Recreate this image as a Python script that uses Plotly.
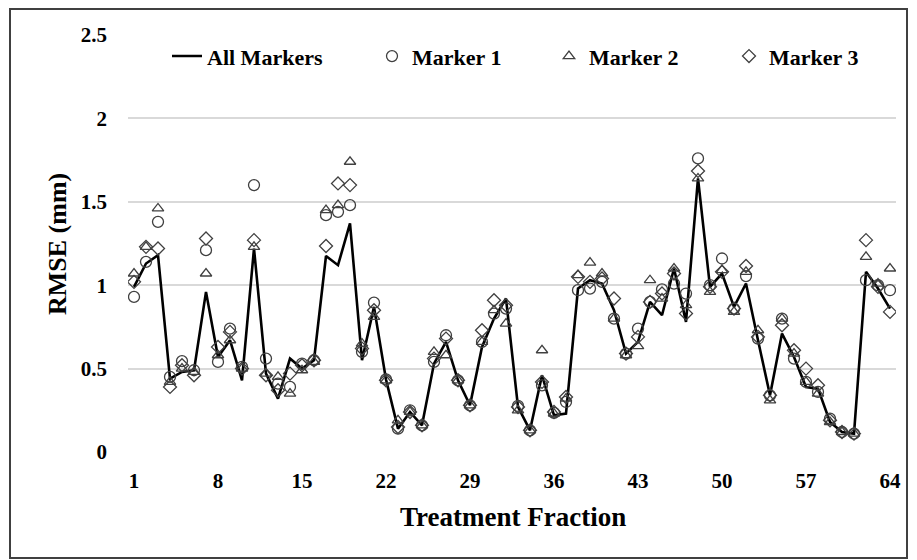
import plotly.graph_objects as go

fractions = list(range(1, 65))

all_markers = [0.99, 1.13, 1.18, 0.44, 0.48, 0.49, 0.96, 0.57, 0.67, 0.43,
               1.22, 0.47, 0.32, 0.56, 0.50, 0.55, 1.175, 1.12, 1.37, 0.55,
               0.87, 0.435, 0.14, 0.24, 0.16, 0.53, 0.66, 0.43, 0.28, 0.63,
               0.80, 0.92, 0.27, 0.13, 0.46, 0.22, 0.23, 0.98, 1.03, 1.01,
               0.85, 0.59, 0.66, 0.90, 0.82, 1.10, 0.78, 1.64, 0.99, 1.07,
               0.87, 1.01, 0.67, 0.34, 0.71, 0.57, 0.39, 0.38, 0.18, 0.12,
               0.11, 1.08, 0.98, 0.86]

marker1 = [0.93, 1.14, 1.38, 0.45, 0.545, 0.49, 1.21, 0.54, 0.74, 0.51,
           1.60, 0.56, 0.41, 0.39, 0.53, 0.55, 1.42, 1.44, 1.48, 0.60,
           0.895, 0.435, 0.14, 0.25, 0.16, 0.54, 0.70, 0.43, 0.28, 0.66,
           0.83, 0.86, 0.276, 0.13, 0.40, 0.235, 0.30, 0.97, 0.98, 1.02,
           0.80, 0.59, 0.74, 0.90, 0.975, 1.01, 0.95, 1.76, 1.00, 1.16,
           0.86, 1.055, 0.68, 0.34, 0.80, 0.56, 0.42, 0.36, 0.20, 0.12,
           0.11, 1.03, 1.00, 0.97]

marker2 = [1.07, 1.23, 1.46, 0.42, 0.50, 0.48, 1.07, 0.58, 0.67, 0.50,
           1.23, 0.47, 0.45, 0.35, 0.49, 0.54, 1.45, 1.48, 1.74, 0.65,
           0.81, 0.43, 0.19, 0.24, 0.16, 0.60, 0.58, 0.43, 0.28, 0.66,
           0.85, 0.77, 0.25, 0.13, 0.61, 0.23, 0.32, 1.06, 1.135, 1.07,
           0.80, 0.58, 0.635, 1.03, 0.92, 1.10, 0.88, 1.64, 0.96, 1.09,
           0.84, 1.08, 0.73, 0.31, 0.80, 0.59, 0.42, 0.35, 0.18, 0.12,
           0.11, 1.17, 1.01, 1.10]

marker3 = [1.02, 1.23, 1.22, 0.39, 0.52, 0.46, 1.28, 0.63, 0.72, 0.50,
           1.27, 0.46, 0.37, 0.47, 0.52, 0.55, 1.235, 1.61, 1.60, 0.62,
           0.85, 0.43, 0.15, 0.24, 0.16, 0.56, 0.68, 0.43, 0.28, 0.73,
           0.91, 0.88, 0.27, 0.13, 0.42, 0.24, 0.33, 1.05, 1.02, 1.04,
           0.92, 0.59, 0.69, 0.90, 0.95, 1.07, 0.83, 1.685, 0.99, 1.08,
           0.86, 1.115, 0.69, 0.34, 0.76, 0.61, 0.50, 0.40, 0.19, 0.12,
           0.11, 1.27, 0.99, 0.84]

x_ticks = [1, 8, 15, 22, 29, 36, 43, 50, 57, 64]
y_ticks = [0, 0.5, 1, 1.5, 2, 2.5]
y_tick_labels = ["0", "0.5", "1", "1.5", "2", "2.5"]

FONT = "Liberation Serif"
mcol = "#404040"

W, H = 909, 552
ML, MR, MT, MB = 120, 21, 27, 108
PW = W - ML - MR
PH = H - MT - MB


def px(xp):
    return (xp - ML) / PW


def py(yp):
    return (MT + PH - yp) / PH


fig = go.Figure()
fig.add_trace(go.Scatter(x=fractions, y=all_markers, mode="lines", name="All Markers",
                         line=dict(color="black", width=2.6), legend="legend"))
fig.add_trace(go.Scatter(x=fractions, y=marker1, mode="markers", name="Marker 1",
                         marker=dict(symbol="circle-open", size=11, color=mcol,
                                     line=dict(width=1.3, color=mcol)), legend="legend2"))
fig.add_trace(go.Scatter(x=fractions, y=marker2, mode="markers", name="Marker 2",
                         marker=dict(symbol="triangle-up-open", size=10, color=mcol,
                                     line=dict(width=1.3, color=mcol)), legend="legend3"))
fig.add_trace(go.Scatter(x=fractions, y=marker3, mode="markers", name="Marker 3",
                         marker=dict(symbol="diamond-open", size=10, color=mcol,
                                     line=dict(width=1.3, color=mcol)), legend="legend4"))

legfont = dict(family=FONT, size=22, color="black", weight="bold")
ly = 0.949


def leg(xpix):
    return dict(orientation="h", x=px(xpix), xanchor="left", y=ly, yanchor="middle",
                font=legfont, bgcolor="rgba(0,0,0,0)", itemwidth=30)


fig.update_layout(
    width=W, height=H,
    margin=dict(l=ML, r=MR, t=MT, b=MB),
    paper_bgcolor="white", plot_bgcolor="white",
    font=dict(family=FONT, color="black", size=20, weight="bold"),
    showlegend=True,
    legend=leg(159), legend2=leg(364), legend3=leg(541), legend4=leg(721),
    xaxis=dict(range=[0.5, 64.5], tickmode="array", tickvals=x_ticks,
               showgrid=False, zeroline=False, showline=False, ticks="",
               ticklabelstandoff=14,
               tickfont=dict(family=FONT, size=21, weight="bold")),
    yaxis=dict(range=[0, 2.5], tickmode="array", tickvals=y_ticks, ticktext=y_tick_labels,
               showgrid=True, gridcolor="#d9d9d9", gridwidth=1.5, zeroline=False,
               showline=False, ticks="", ticklabelstandoff=20,
               tickfont=dict(family=FONT, size=21, weight="bold")),
    annotations=[
        dict(text="Treatment Fraction", xref="paper", yref="paper",
             x=px(505), y=py(509), xanchor="center", yanchor="middle", showarrow=False,
             font=dict(family=FONT, size=27, color="black", weight="bold")),
        dict(text="RMSE (mm)", xref="paper", yref="paper", textangle=-90,
             x=px(49), y=py(236), xanchor="center", yanchor="middle", showarrow=False,
             font=dict(family=FONT, size=26, color="black", weight="bold")),
    ],
    shapes=[dict(type="rect", xref="paper", yref="paper",
                 x0=px(2), x1=px(899), y0=py(550), y1=py(1),
                 line=dict(color="#404040", width=2), layer="below")],
)

fig.write_html("out.html")
